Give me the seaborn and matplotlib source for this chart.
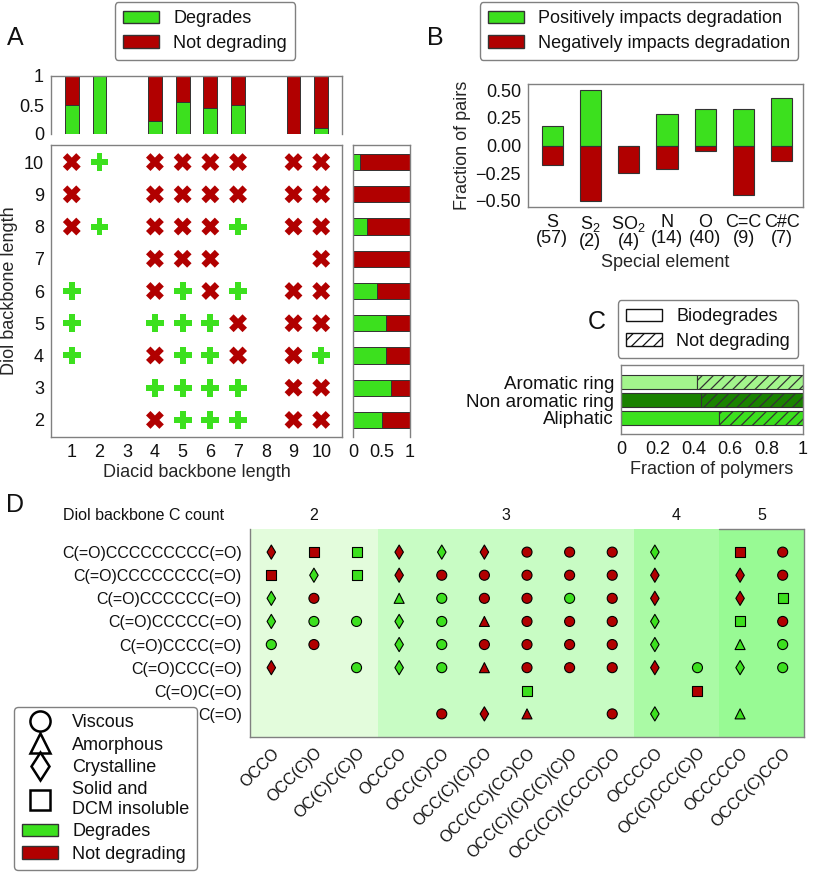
import numpy as np
import pandas as pd
import matplotlib
matplotlib.use("Agg")
import matplotlib.pyplot as plt
import matplotlib.transforms as mtransforms
from matplotlib.patches import Patch
from matplotlib.lines import Line2D
import seaborn as sns

# ---------------- data ----------------
GREEN = "#3ce01e"
RED = "#b10000"

# Panel A: outcome grid (P = degrades, X = not degrading, . = not tested)
diacid_lengths = [1, 2, 3, 4, 5, 6, 7, 8, 9, 10]
diol_lengths = [10, 9, 8, 7, 6, 5, 4, 3, 2]
grid_rows = [
    "XP.XXXX.XX",
    "X..XXXX.XX",
    "XP.XXXP.XX",
    "...XXX...X",
    "P..XPXP.XX",
    "P..PPPX.XX",
    "P..XPPX.XP",
    "...PPPP.XX",
    "...XPPP.XX",
]

# Panel B
elements = ["S", "S$_2$", "SO$_2$", "N", "O", "C=C", "C#C"]
element_counts = [57, 2, 4, 14, 40, 9, 7]
positive_frac = [0.175, 0.50, 0.0, 0.286, 0.325, 0.333, 0.429]
negative_frac = [-0.175, -0.50, -0.25, -0.214, -0.05, -0.444, -0.143]

# Panel C
ring_types = ["Aromatic ring", "Non aromatic ring", "Aliphatic"]
ring_degrade_frac = [0.42, 0.44, 0.54]
ring_colors = ["#a3f58c", "#1a8200", "#3ce01e"]

# Panel D
diacid_smiles = [
    "C(=O)CCCCCCCCC(=O)",
    "C(=O)CCCCCCCC(=O)",
    "C(=O)CCCCCC(=O)",
    "C(=O)CCCCC(=O)",
    "C(=O)CCCC(=O)",
    "C(=O)CCC(=O)",
    "C(=O)C(=O)",
    "C(=O)",
]
diol_smiles = [
    "OCCO", "OCC(C)O", "OC(C)C(C)O",
    "OCCCO", "OCC(C)CO", "OCC(C)(C)CO", "OCC(CC)(CC)CO",
    "OCC(C)(C)C(C)(C)O", "OCC(CC)(CCCC)CO",
    "OCCCCO", "OC(C)CCC(C)O",
    "OCCCCCO", "OCCC(C)CCO",
]
diol_groups = ["2", "3", "4", "5"]
diol_group_sizes = [3, 6, 2, 2]
group_colors = ["#e3fcdc", "#c8fcc4", "#aafaa5", "#98fa94"]
# code: first letter g/r (degrades / not), second o/t/d/s (form); "--" none
d_rows = [
    ["rd", "rs", "gs", "rd", "gd", "rd", "ro", "ro", "ro", "gd", "--", "rs", "ro"],
    ["rs", "gd", "gs", "rd", "ro", "ro", "ro", "ro", "ro", "rd", "--", "rd", "ro"],
    ["gd", "ro", "--", "gt", "go", "ro", "ro", "go", "ro", "rd", "--", "rd", "gs"],
    ["gd", "go", "go", "gd", "go", "rt", "ro", "ro", "ro", "gd", "--", "gs", "ro"],
    ["go", "ro", "--", "gd", "go", "ro", "ro", "ro", "ro", "gd", "--", "gt", "go"],
    ["rd", "--", "go", "gd", "go", "rt", "ro", "ro", "ro", "rd", "go", "gd", "go"],
    ["--", "--", "--", "--", "--", "--", "gs", "--", "--", "--", "rs", "--", "--"],
    ["--", "--", "--", "--", "ro", "rd", "rt", "--", "ro", "gd", "--", "gt", "--"],
]

# ---------------- style ----------------
sns.set_theme(style="white")
plt.rcParams["font.family"] = ["Liberation Sans", "DejaVu Sans"]
plt.rcParams["mathtext.fontset"] = "custom"
plt.rcParams["mathtext.rm"] = "Liberation Sans"
plt.rcParams["mathtext.it"] = "Liberation Sans:italic"
plt.rcParams["mathtext.bf"] = "Liberation Sans:bold"
plt.rcParams["legend.edgecolor"] = "#808080"
plt.rcParams["legend.framealpha"] = 1.0
plt.rcParams["hatch.color"] = "#111111"
plt.rcParams["hatch.linewidth"] = 0.9
plt.rcParams["axes.edgecolor"] = "#808080"
plt.rcParams["axes.linewidth"] = 1.0
plt.rcParams["text.color"] = "#111111"

FS = 13
SPINE = "#808080"
EDGE = "#333333"

W, H = 830, 884
fig = plt.figure(figsize=(W / 100, H / 100), dpi=100)


def add_ax(x0, y0, x1, y1):
    return fig.add_axes([x0 / W, 1 - y1 / H, (x1 - x0) / W, (y1 - y0) / H])


def style_ticks(ax, size=FS):
    ax.tick_params(axis="both", which="both", direction="out", length=3,
                   width=0.8, color="#666666", labelsize=size, pad=2,
                   labelcolor="#111111")


# ---------------- Panel A ----------------
recs = []
for dl, row in zip(diol_lengths, grid_rows):
    for da, c in zip(diacid_lengths, row):
        if c != ".":
            recs.append({"diacid": da, "diol": dl,
                         "status": "deg" if c == "P" else "not"})
dfA = pd.DataFrame(recs)
dfA["is_deg"] = (dfA["status"] == "deg").astype(float)

axA = add_ax(51, 145, 342, 437)
sns.scatterplot(data=dfA, x="diacid", y="diol", hue="status", style="status",
                markers={"deg": "P", "not": "X"},
                palette={"deg": GREEN, "not": RED}, s=165, linewidth=0,
                legend=False, ax=axA)
axA.set_xlim(0.25, 10.75)
axA.set_ylim(1.47, 10.53)
axA.set_xticks(diacid_lengths)
axA.set_yticks(sorted(diol_lengths))
axA.set_xlabel("Diacid backbone length", fontsize=FS, labelpad=2)
axA.set_ylabel("Diol backbone length", fontsize=FS, labelpad=4)
style_ticks(axA)

# top marginal
col_frac = dfA.groupby("diacid")["is_deg"].mean().reindex(diacid_lengths)
col_has = col_frac.notna()
col_frac = col_frac.fillna(0.0)
axT = add_ax(51, 76, 342, 134)
axT.bar(diacid_lengths, col_frac.values, width=0.5, color=GREEN,
        edgecolor=EDGE, linewidth=0.7)
axT.bar(diacid_lengths, np.where(col_has, 1 - col_frac.values, 0.0),
        bottom=col_frac.values, width=0.5, color=RED, edgecolor=EDGE,
        linewidth=0.7)
axT.set_xlim(0.25, 10.75)
axT.set_ylim(0, 1)
axT.set_xticks(diacid_lengths)
axT.set_xticklabels([])
axT.set_yticks([0, 0.5, 1])
axT.set_yticklabels(["0", "0.5", "1"])
axT.spines["bottom"].set_visible(False)
style_ticks(axT)

# right marginal
row_frac = dfA.groupby("diol")["is_deg"].mean().reindex(diol_lengths)
axR = add_ax(353, 145, 410, 437)
axR.barh(diol_lengths, row_frac.values, height=0.5, color=GREEN,
         edgecolor=EDGE, linewidth=0.7)
axR.barh(diol_lengths, 1 - row_frac.values, left=row_frac.values, height=0.5,
         color=RED, edgecolor=EDGE, linewidth=0.7)
axR.set_ylim(1.47, 10.53)
axR.set_xlim(0, 1)
axR.set_yticks(sorted(diol_lengths))
axR.set_yticklabels([])
axR.set_xticks([0, 0.5, 1])
axR.set_xticklabels(["0", "0.5", "1"])
axR.spines["bottom"].set_visible(False)
style_ticks(axR)

fig.legend(handles=[Patch(facecolor=GREEN, edgecolor=EDGE),
                    Patch(facecolor=RED, edgecolor=EDGE)],
           labels=["Degrades", "Not degrading"], loc="center",
           bbox_to_anchor=(205 / W, 1 - 31 / H), fontsize=FS,
           borderpad=0.45, labelspacing=0.4, handletextpad=0.8)

# ---------------- Panel B ----------------
axB = add_ax(528, 84, 803, 207)
xb = np.arange(len(elements))
axB.bar(xb, positive_frac, width=0.55, color=GREEN, edgecolor=EDGE,
        linewidth=0.8)
axB.bar(xb, negative_frac, width=0.55, color=RED, edgecolor=EDGE,
        linewidth=0.8)
axB.set_xlim(-0.63, 6.55)
axB.set_ylim(-0.555, 0.555)
axB.set_yticks([-0.5, -0.25, 0, 0.25, 0.5])
axB.set_yticklabels(["\u22120.50", "\u22120.25", "0.00", "0.25", "0.50"])
axB.set_xticks(xb)
axB.set_xticklabels([f"{e}\n({n})" for e, n in zip(elements, element_counts)],
                    linespacing=0.92)
axB.set_xlabel("Special element", fontsize=FS, labelpad=3)
axB.set_ylabel("Fraction of pairs", fontsize=FS, labelpad=3)
style_ticks(axB)

fig.legend(handles=[Patch(facecolor=GREEN, edgecolor=EDGE),
                    Patch(facecolor=RED, edgecolor=EDGE)],
           labels=["Positively impacts degradation",
                   "Negatively impacts degradation"], loc="center",
           bbox_to_anchor=(639 / W, 1 - 31 / H), fontsize=FS,
           borderpad=0.45, labelspacing=0.4, handletextpad=0.8)

# ---------------- Panel C ----------------
axC = add_ax(621, 365, 803, 434)
yc = np.arange(len(ring_types))[::-1]
axC.barh(yc, ring_degrade_frac, height=0.78, color=ring_colors,
         edgecolor=EDGE, linewidth=0.8)
axC.barh(yc, 1 - np.array(ring_degrade_frac), left=ring_degrade_frac,
         height=0.78, color=ring_colors, edgecolor=EDGE, linewidth=0.8,
         hatch="///")
axC.set_xlim(0, 1)
axC.set_ylim(-0.92, 2.98)
axC.set_yticks(yc)
axC.set_yticklabels(ring_types)
axC.set_xticks([0, 0.2, 0.4, 0.6, 0.8, 1.0])
axC.set_xticklabels(["0", "0.2", "0.4", "0.6", "0.8", "1"])
axC.set_xlabel("Fraction of polymers", fontsize=FS, labelpad=2)
style_ticks(axC)
axC.tick_params(axis="y", labelsize=13.5)

fig.legend(handles=[Patch(facecolor="white", edgecolor="#111111"),
                    Patch(facecolor="white", edgecolor="#111111", hatch="///")],
           labels=["Biodegrades", "Not degrading"], loc="center",
           bbox_to_anchor=(708 / W, 1 - 329 / H), fontsize=FS,
           borderpad=0.45, labelspacing=0.4, handletextpad=0.8)

# ---------------- Panel D ----------------
recsD = []
for ri, row in enumerate(d_rows):
    for ci, code in enumerate(row):
        if code != "--":
            recsD.append({"col": ci, "row": ri,
                          "outcome": "deg" if code[0] == "g" else "not",
                          "form": code[1]})
dfD = pd.DataFrame(recsD)

axD = add_ax(250, 529, 804, 737)
bounds = np.concatenate([[0], np.cumsum(diol_group_sizes)]) - 0.5
for gi, gcol in enumerate(group_colors):
    axD.axvspan(bounds[gi], bounds[gi + 1], color=gcol, zorder=0, lw=0)
sns.scatterplot(data=dfD, x="col", y="row", hue="outcome", style="form",
                markers={"o": "o", "t": "^", "d": "d", "s": "s"},
                palette={"deg": GREEN, "not": RED}, s=52, edgecolor="black",
                linewidth=0.8, legend=False, ax=axD, zorder=3)
axD.set_xlim(-0.5, len(diol_smiles) - 0.5)
axD.set_ylim(len(diacid_smiles), -1)
axD.set_xticks(range(len(diol_smiles)))
axD.set_xticklabels(diol_smiles, rotation=45, ha="right",
                    rotation_mode="anchor")
axD.set_yticks(range(len(diacid_smiles)))
axD.set_yticklabels(diacid_smiles)
axD.set_xlabel("")
axD.set_ylabel("")
axD.spines["top"].set_visible(False)
style_ticks(axD, size=11.5)
axD.tick_params(axis="x", pad=3)
axD.tick_params(axis="y", pad=3)

trans = mtransforms.blended_transform_factory(axD.transData, axD.transAxes)
for gi, g in enumerate(diol_groups):
    axD.text((bounds[gi] + bounds[gi + 1]) / 2, 1.067, g, transform=trans,
             ha="center", va="center", fontsize=11.5)
axD.plot([bounds[-2], bounds[-1]], [1, 1], transform=trans, color=SPINE,
         lw=1.0, clip_on=False)
axD.text(-0.047, 1.067, "Diol backbone C count", transform=axD.transAxes,
         ha="right", va="center", fontsize=11.5)

mk = dict(ls="", markerfacecolor="white", markeredgecolor="black",
          markeredgewidth=1.8, markersize=14.5)
hD = [Line2D([], [], marker="o", **mk),
      Line2D([], [], marker="^", **mk),
      Line2D([], [], marker="d", **mk),
      Line2D([], [], marker="s", **mk),
      Patch(facecolor=GREEN, edgecolor=EDGE),
      Patch(facecolor=RED, edgecolor=EDGE)]
lD = ["Viscous", "Amorphous", "Crystalline", "Solid and\nDCM insoluble",
      "Degrades", "Not degrading"]
fig.legend(handles=hD, labels=lD, loc="center",
           bbox_to_anchor=(105.5 / W, 1 - 788.5 / H), fontsize=FS,
           borderpad=0.4, labelspacing=0.3, handletextpad=0.8,
           handlelength=2.0)

# panel letters
for letter, (px, py) in {"A": (15, 38), "B": (435, 38), "C": (597, 322),
                         "D": (15, 505)}.items():
    fig.text(px / W, 1 - py / H, letter, fontsize=18, ha="center",
             va="center")

fig.savefig("out.png", dpi=100)
